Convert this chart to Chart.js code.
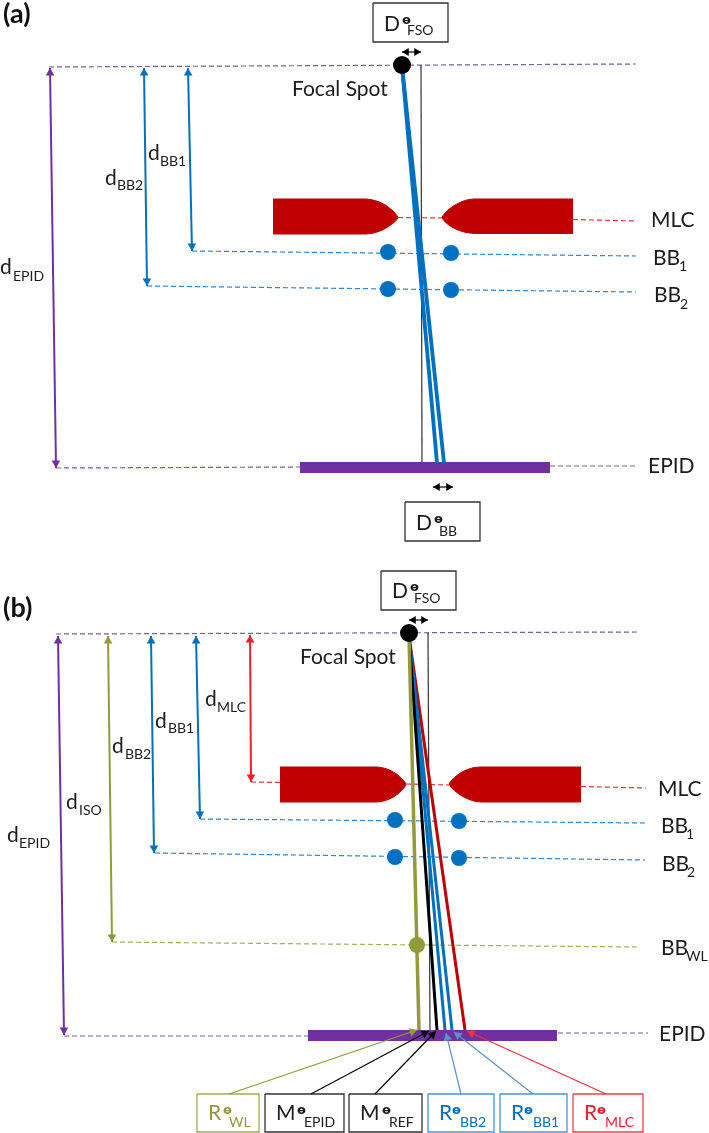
<!DOCTYPE html>
<html>
<head>
<meta charset="utf-8">
<script src="https://cdn.jsdelivr.net/npm/chart.js@4"></script>
<style>
html, body { margin: 0; padding: 0; background: #fff; }
canvas { display: block; }
</style>
</head>
<body>
<canvas id="diagram" width="709" height="1133"></canvas>
<script>
// everything is in picture units: x 0-709, y 0-1133 (y goes down)

// dashed guide lines
const dashedPurple = [
  [[49, 67], [636, 64]], [[56, 468], [300, 467]], [[550, 466], [636, 466]],
  [[56, 634], [640, 632]], [[64, 1036], [308, 1036]], [[558, 1033], [648, 1033]],
];
const dashedBlue = [
  [[192, 251], [636, 256]], [[147, 286], [636, 292]],
  [[200, 819], [645, 823]], [[155, 853], [645, 860]],
];
const dashedRed = [
  [[398, 217.5], [442, 218]], [[573, 219.5], [637, 221]],
  [[251, 782], [280, 782.5]], [[406, 784], [449, 785]], [[581, 786.5], [646, 788]],
];
const dashedOlive = [[[112, 942], [638, 947]]];

// distance arrows, head at both ends
const arrowsPurple = [[[50, 68], [56, 468]], [[58, 636], [64, 1035]]];
const arrowsBlue = [
  [[188, 68], [192, 251]], [[144, 68], [147, 286]],
  [[196, 636], [200, 819]], [[151, 636], [154, 853]],
];
const arrowsRed = [[[250, 635], [251, 782]]];
const arrowsOlive = [[[108, 636], [112, 942]]];
const arrowsOffset = [
  [[402, 52], [421, 52]], [[433, 487], [453, 487]], [[409, 620], [428, 620]],
];

// beams
const beamsBlueA = [[[402, 66], [437, 463]], [[402, 66], [444, 463]]];
const beamsBlueB = [[[409, 636], [445, 1030]], [[409, 636], [452, 1030]]];
const beamRed = [[[409, 636], [465, 1030]]];
const beamBlack = [[[409, 636], [437, 1030]]];
const beamOlive = [[[409, 636], [419, 1030]]];
const centralAxes = [[[421, 65], [422, 463]], [[428, 633], [430, 1031]]];

// detector bars
const epidBars = [[[300, 467.5], [550, 467.5]], [[308, 1035.5], [557, 1035.5]]];

// MLC leaves, outline above and below the middle line
const leafTopLeftA = [[273, 199], [366, 199], [371, 199.6], [375, 200.6], [379.5, 202], [383.5, 204], [387, 206], [390, 208.5], [393, 211], [395.2, 213.4], [396.8, 215.4], [398, 217.5]];
const leafBottomLeftA = [[273, 234], [366, 234], [371, 233.5], [375, 232.6], [379.5, 231.2], [383.5, 229.4], [387, 227.4], [390, 225.4], [393, 223.2], [395.2, 221.4], [396.8, 219.6], [398, 217.5]];
const leafTopRightA = [[442, 217.5], [443.2, 215.4], [445, 213], [447.5, 210.6], [450.5, 208], [454, 205.6], [458, 203.4], [462, 201.6], [466, 200.2], [470, 199.4], [474, 199], [573, 199]];
const leafBottomRightA = [[442, 217.5], [443.2, 219.6], [445, 221.8], [447.5, 224], [450.5, 226.2], [454, 228.2], [458, 230], [462, 231.4], [466, 232.4], [470, 233], [474, 233.4], [573, 233.4]];
const leafTopLeftB = [[280, 767], [377, 767], [381, 767.5], [385, 768.4], [389, 769.8], [393, 771.8], [396.5, 774], [399.5, 776.4], [402, 778.8], [404, 781], [405.2, 782.6], [406, 784]];
const leafBottomLeftB = [[280, 802], [377, 802], [381, 801.5], [385, 800.6], [389, 799.2], [393, 797.2], [396.5, 795], [399.5, 792.6], [402, 790.2], [404, 788], [405.2, 786], [406, 784]];
const leafTopRightB = [[449, 784], [450.2, 782], [452, 779.8], [454.5, 777.4], [457.5, 775], [461, 772.6], [465, 770.6], [469, 769], [473, 767.8], [477, 767.2], [481, 767], [581, 767]];
const leafBottomRightB = [[449, 784], [450.2, 786], [452, 788.2], [454.5, 790.6], [457.5, 793], [461, 795.4], [465, 797.6], [469, 799.4], [473, 800.8], [477, 801.6], [481, 802], [581, 802]];

// dots
const bbDots = [[388, 252], [451, 253], [388, 289], [451, 290], [395, 820], [459, 821], [395, 857], [459, 858]];
const focalDots = [[402, 65], [409, 633]];
const wlDots = [[417, 945]];

// label boxes [left, top, right, bottom]
const boxesBlack = [[373, 3, 448, 42], [405, 502, 480, 541], [381, 571, 456, 610], [265, 1094, 344, 1132], [349, 1094, 422, 1132]];
const boxesOlive = [[197, 1094, 259, 1132]];
const boxesBlue = [[428, 1094, 494, 1132], [500, 1094, 567, 1132]];
const boxesRed = [[573, 1094, 643, 1132]];

// leader arrows from the boxes up to the detector
const leadersOlive = [[[229, 1094], [417, 1030]]];
const leadersBlack = [[[311, 1094], [429, 1031]], [[375, 1094], [436, 1031]]];
const leadersBlue = [[[461, 1094], [446, 1033]], [[533, 1094], [454, 1032]]];
const leadersRed = [[[606, 1094], [467, 1031]]];

// text: [string, x, baseline]
const panelLabels = [["(a)", 3, 23], ["(b)", 3, 617]];
const mainLabels = [
  ["d", 0, 274], ["d", 105, 185], ["d", 148, 160], ["Focal Spot", 292, 96],
  ["MLC", 651, 227], ["BB", 653, 265], ["BB", 654, 302], ["EPID", 648, 473],
  ["D", 384, 31], ["D", 416, 530], ["D", 392, 598],
  ["d", 205, 706], ["d", 155, 728], ["d", 112, 753], ["d", 66, 809], ["d", 7, 842],
  ["Focal Spot", 300, 664],
  ["MLC", 658, 796], ["BB", 661, 833], ["BB", 662, 871], ["BB", 661, 955], ["EPID", 659, 1041],
  ["M", 276, 1120], ["M", 360, 1120],
];
const subLabels = [
  ["EPID", 13, 281], ["BB2", 117, 190], ["BB1", 160, 166], ["1", 679, 271], ["2", 680, 309],
  ["FSO", 407, 35], ["BB", 439, 536], ["FSO", 414, 603],
  ["MLC", 217, 712], ["BB1", 168, 733], ["BB2", 125, 759], ["ISO", 79, 815], ["EPID", 19, 848],
  ["1", 686, 839], ["2", 687, 877], ["WL", 686, 961],
  ["EPID", 304, 1127], ["REF", 389, 1127],
];
const thetaMarks = [[402, 24], [434, 523], [410, 591], [297, 1114], [382, 1114]];

const oliveLabels = [["R", 208, 1120]], oliveSubs = [["WL", 229, 1127]], oliveThetas = [[223, 1114]];
const blueLabels = [["R", 439, 1120], ["R", 511, 1120]];
const blueSubs = [["BB2", 460, 1127], ["BB1", 533, 1127]], blueThetas = [[452, 1114], [524, 1114]];
const redLabels = [["R", 584, 1120]], redSubs = [["MLC", 605, 1127]], redThetas = [[597, 1114]];

const PURPLE = "#7030A0", BLUE = "#0070C0", DARKRED = "#C00000", OLIVE = "#929A3B";
const TEXT = "#1c1c1c";
const datasets = [];

function toXY(points) {
  return points.map(p => ({ x: p[0], y: p[1] }));
}

function addLines(segments, color, width, dash) {
  segments.forEach(points => {
    datasets.push({
      type: "scatter", showLine: true, data: toXY(points), borderColor: color,
      borderWidth: width, borderDash: dash || [], pointRadius: 0, tension: 0,
    });
  });
}

// triangle marker whose tip sits on the end of a segment
function addHeads(segments, color, size, both) {
  const pts = [], rot = [];
  function head(from, to) {
    const dx = to[0] - from[0], dy = to[1] - from[1], len = Math.hypot(dx, dy);
    pts.push({ x: to[0] - dx / len * size, y: to[1] - dy / len * size });
    rot.push(Math.atan2(dx, -dy) * 180 / Math.PI);
  }
  segments.forEach(s => {
    head(s[0], s[1]);
    if (both) head(s[1], s[0]);
  });
  datasets.push({
    type: "scatter", data: pts, pointStyle: "triangle", pointRadius: size,
    pointRotation: rot, backgroundColor: color, borderColor: color, pointBorderWidth: 0,
  });
}

function addArrows(segments, color, width, size, both) {
  addLines(segments, color, width);
  addHeads(segments, color, size, both);
}

function addBoxes(boxes, color, width) {
  boxes.forEach(b => {
    addLines([[[b[0], b[1]], [b[2], b[1]], [b[2], b[3]], [b[0], b[3]], [b[0], b[1]]]], color, width);
  });
}

function addLeaf(points, middle) {
  datasets.push({
    type: "scatter", showLine: true, data: toXY(points), borderColor: DARKRED, borderWidth: 1,
    backgroundColor: DARKRED, fill: { value: middle }, pointRadius: 0, tension: 0,
  });
}

function addDots(points, color, size) {
  datasets.push({
    type: "scatter", data: toXY(points), pointStyle: "circle", pointRadius: size,
    backgroundColor: color, borderColor: color, pointBorderWidth: 0,
  });
}

// later calls end up on top
addLines(dashedPurple, "#7a5ea0", 1.2, [5, 3]);
addLines(dashedBlue, "#2e86d0", 1.2, [5, 3]);
addLines(dashedRed, "#dd3b40", 1.2, [5, 3]);
addLines(dashedOlive, "#a6ad5c", 1.2, [5, 3]);
// top and bottom fills overlap a little so no seam shows in the middle
addLeaf(leafTopLeftA, 218); addLeaf(leafBottomLeftA, 217);
addLeaf(leafTopRightA, 218); addLeaf(leafBottomRightA, 217);
addLeaf(leafTopLeftB, 784); addLeaf(leafBottomLeftB, 784);
addLeaf(leafTopRightB, 784); addLeaf(leafBottomRightB, 784);
addDots(bbDots, BLUE, 8);
addLines(centralAxes, "#333333", 1.2);
addLines(epidBars, PURPLE, 11);
addLines(beamsBlueA, BLUE, 3.8);
addLines(beamRed, DARKRED, 3);
addLines(beamsBlueB, BLUE, 3);
addLines(beamBlack, "#000000", 3);
addLines(beamOlive, OLIVE, 3.5);
addDots(wlDots, OLIVE, 8);
addDots(focalDots, "#000000", 9);
addArrows(arrowsPurple, PURPLE, 2, 5, true);
addArrows(arrowsBlue, BLUE, 2, 5, true);
addArrows(arrowsRed, "#F0202A", 2, 5, true);
addArrows(arrowsOlive, OLIVE, 2, 5, true);
addArrows(arrowsOffset, "#000000", 1.2, 4.5, true);
addBoxes(boxesBlack, "#333333", 1.3);
addBoxes(boxesOlive, "#a3ab55", 1.3);
addBoxes(boxesBlue, "#4a94d8", 1.3);
addBoxes(boxesRed, "#f0404c", 1.3);
addArrows(leadersOlive, OLIVE, 1.2, 5);
addArrows(leadersBlack, "#000000", 1.2, 5);
addArrows(leadersBlue, "#5b8fd0", 1.2, 5);
addArrows(leadersRed, "#f5303a", 1.2, 5);

const MAIN_FONT = '21px Lato, "DejaVu Sans"';
const SUB_FONT = '14px Lato, "DejaVu Sans"';
const THETA_FONT = 'bold 13px "DejaVu Sans"';

const textPlugin = {
  id: "diagramText",
  afterDraw(chart) {
    const ctx = chart.ctx, xs = chart.scales.x, ys = chart.scales.y;
    function put(rows, font, color) {
      ctx.font = font;
      ctx.fillStyle = color;
      rows.forEach(r => ctx.fillText(r[0], xs.getPixelForValue(r[1]), ys.getPixelForValue(r[2])));
    }
    const theta = marks => marks.map(m => ["ɵ", m[0], m[1]]);
    ctx.save();
    ctx.textAlign = "left";
    ctx.textBaseline = "alphabetic";
    put(panelLabels, 'bold 27px Lato, "DejaVu Sans"', "#111111");
    put(mainLabels, MAIN_FONT, TEXT);
    put(subLabels, SUB_FONT, TEXT);
    put(theta(thetaMarks), THETA_FONT, TEXT);
    put(oliveLabels, MAIN_FONT, OLIVE);
    put(oliveSubs, SUB_FONT, OLIVE);
    put(theta(oliveThetas), THETA_FONT, OLIVE);
    put(blueLabels, MAIN_FONT, BLUE);
    put(blueSubs, SUB_FONT, BLUE);
    put(theta(blueThetas), THETA_FONT, BLUE);
    put(redLabels, MAIN_FONT, "#ED1C2E");
    put(redSubs, SUB_FONT, "#ED1C2E");
    put(theta(redThetas), THETA_FONT, "#ED1C2E");
    ctx.restore();
  },
};

new Chart(document.getElementById("diagram").getContext("2d"), {
  type: "scatter",
  data: { datasets: datasets.reverse() },
  plugins: [textPlugin],
  options: {
    responsive: false,
    animation: false,
    layout: { padding: 0, autoPadding: false },
    plugins: { legend: { display: false }, tooltip: { enabled: false } },
    scales: {
      x: { type: "linear", min: 0, max: 709, display: false },
      y: { type: "linear", min: 0, max: 1133, reverse: true, display: false },
    },
  },
});
</script>
</body>
</html>
